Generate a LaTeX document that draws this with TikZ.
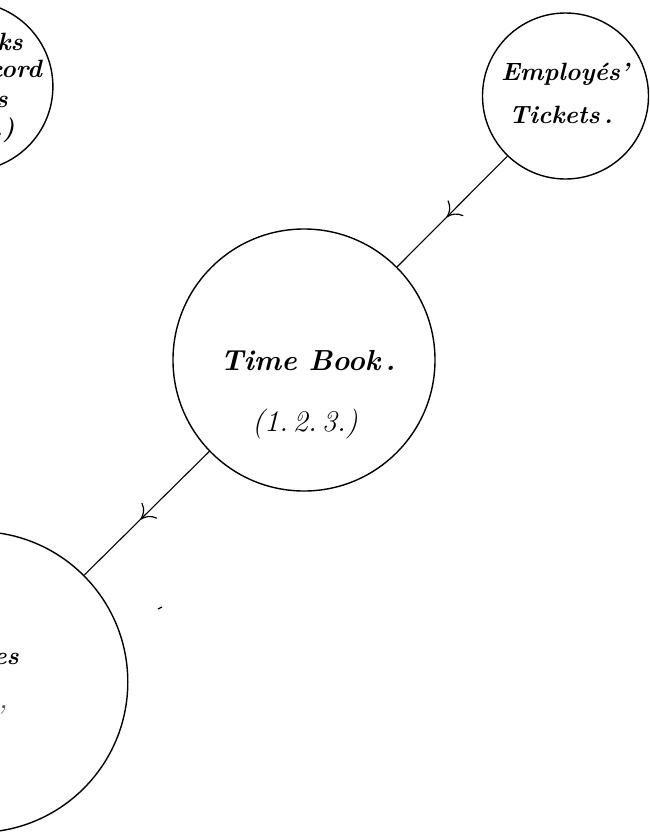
\documentclass[tikz,border=0pt]{standalone}
\usetikzlibrary{arrows.meta,decorations.markings}
\begin{document}
\begin{tikzpicture}[x=1pt,y=-1pt,
  ring/.style={circle, draw, line width=1.4pt, inner sep=0pt},
  flow/.style={line width=1.1pt, postaction={decorate},
    decoration={markings, mark=at position 0.55 with
      {\arrow{Computer Modern Rightarrow[length=13pt,width=22pt,line width=1.2pt]}}}},
  word/.style={inner sep=0pt, font=\fontsize{25}{28}\selectfont\bfseries\itshape},
  bigword/.style={inner sep=0pt, font=\fontsize{29}{32}\selectfont\bfseries\itshape},
  numeral/.style={inner sep=0pt, font=\fontsize{30}{34}\selectfont\itshape}
]
\useasboundingbox (0,0) rectangle (650,836);
\clip (0,0) rectangle (650,836);

% circles
\node[ring, minimum size=169pt] (rec) at (-31.6,86.5) {};
\node[ring, minimum size=166pt] (emp) at (565.5,96) {};
\node[ring, minimum size=262pt] (tb)  at (304,360) {};
\node[ring, minimum size=301pt] (out) at (-22.7,682) {};

% connectors
\draw[flow] (emp.226) -- (tb.45);
\draw[flow] (tb.224) -- (out.45);

% labels
\node[word, anchor=base] (empA) at (565,80) {Employés'};
\node[word, anchor=base] (empB) at (561,123) {Tickets\,.};
\node[bigword, anchor=base] (tbA) at (308,370) {Time\ Book\,.};
\node[numeral, anchor=base] (tbB) at (305,431) {(1.\,2.\,3.)};

\node[word, anchor=base east] (recA) at (23,50) {ks};
\node[word, anchor=base east] (recB) at (42,77) {cord};
\node[word, anchor=base east] (recC) at (8,107) {s};
\node[word, anchor=base east] (recD) at (15,136) {.)};

\node[word, anchor=base east] (outA) at (19,664) {es};
\node[numeral, anchor=base east, text=black!70] (outB) at (8,708) {,};

% speck
\draw[line width=1.3pt] (158,609) -- (162,607);
\end{tikzpicture}
\end{document}
